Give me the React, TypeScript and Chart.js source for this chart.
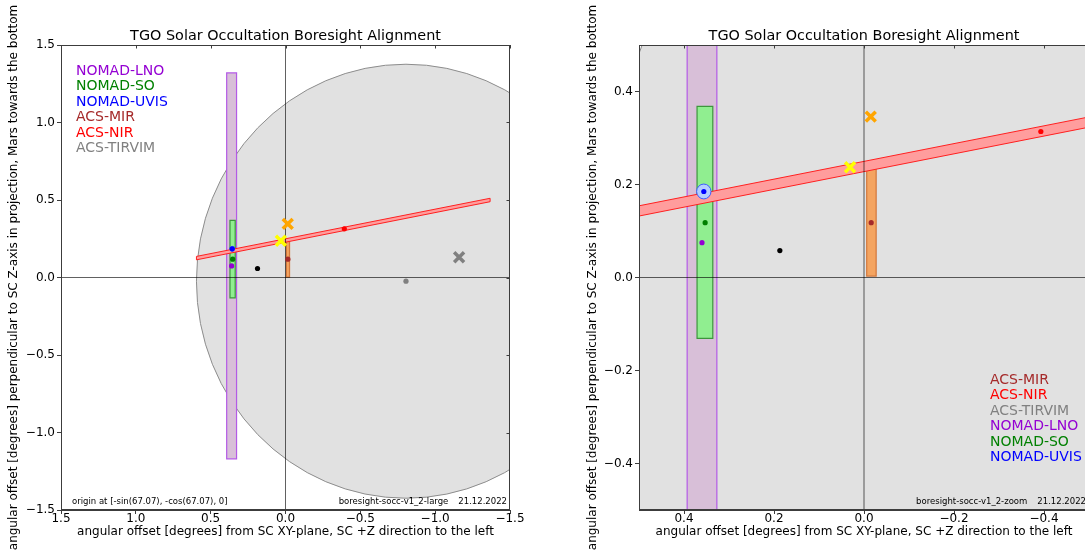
import React, { useEffect, useRef } from 'react';
import { Chart, registerables } from 'chart.js';

Chart.register(...registerables);

const FONT = "'DejaVu Sans', 'Liberation Sans', sans-serif";

const TITLE = 'TGO Solar Occultation Boresight Alignment';
const X_LABEL = 'angular offset [degrees] from SC XY-plane, SC +Z direction to the left';
const Y_LABEL = 'angular offset [degrees] perpendicular to SC Z-axis in projection, Mars towards the bottom';

// boresight dots (degrees)
const dotNames = ['NOMAD-LNO', 'NOMAD-SO', 'NOMAD-UVIS', 'ACS-MIR', 'ACS-NIR', 'ACS-TIRVIM', 'reference'];
const dotX = [0.36, 0.353, 0.356, -0.016, -0.393, -0.805, 0.187];
const dotY = [0.075, 0.118, 0.185, 0.118, 0.314, -0.024, 0.058];
const dotColors = ['#9400d3', '#008000', '#0000ff', '#a52a2a', '#ff0000', '#808080', '#000000'];

// cross markers (degrees)
const crossNames = ['yellow', 'orange', 'grey'];
const crossX = [0.031, -0.015, -1.16];
const crossY = [0.237, 0.346, 0.131];
const crossColors = ['#ffff00', '#ffa500', '#808080'];

// slit rectangles (degrees)
const rectNames = ['NOMAD-LNO', 'NOMAD-SO', 'ACS-MIR'];
const rectXMin = [0.327, 0.336, -0.027];
const rectXMax = [0.393, 0.371, -0.006];
const rectYMin = [-1.17, -0.131, 0.003];
const rectYMax = [1.32, 0.368, 0.233];
const rectFill = ['#d8bfd8', '#90ee90', '#f4a460'];
const rectEdge = ['#b45ae6', '#3c963c', '#d2783c'];

// ACS-NIR slit band (degrees)
const bandX = [0.595, -1.367];
const bandY = [0.125, 0.5];
const bandHalfWidth = [0.011];

// circular fields of view (degrees)
const circleNames = ['ACS-TIRVIM', 'NOMAD-UVIS'];
const circleX = [-0.805, 0.356];
const circleY = [-0.024, 0.185];
const circleR = [1.4, 0.016];
const circleFill = ['#e1e1e1', '#b4cdff'];
const circleEdge = ['#8c8c8c', '#3c5aff'];

// legends
const legendLarge = ['NOMAD-LNO', 'NOMAD-SO', 'NOMAD-UVIS', 'ACS-MIR', 'ACS-NIR', 'ACS-TIRVIM'];
const legendLargeColors = ['#9400d3', '#008000', '#0000ff', '#a52a2a', '#ff0000', '#808080'];
const legendZoom = ['ACS-MIR', 'ACS-NIR', 'ACS-TIRVIM', 'NOMAD-LNO', 'NOMAD-SO', 'NOMAD-UVIS'];
const legendZoomColors = ['#a52a2a', '#ff0000', '#808080', '#9400d3', '#008000', '#0000ff'];

// axes
const largeRange = [-1.5, 1.5];
const largeTicks = [1.5, 1.0, 0.5, 0.0, -0.5, -1.0, -1.5];
const zoomRange = [-0.5, 0.5];
const zoomTicks = [0.4, 0.2, 0.0, -0.2, -0.4];

const fmt = (v: number) => (Math.abs(v) < 1e-9 ? '0.0' : v.toFixed(1).replace('-', '\u2212'));

const shapesPlugin = {
  id: 'fovShapes',
  beforeDatasetsDraw(chart: any) {
    const { ctx, chartArea: a, scales } = chart;
    const xs = scales.x;
    const ys = scales.y;
    const px = (v: number) => xs.getPixelForValue(v);
    const py = (v: number) => ys.getPixelForValue(v);
    ctx.save();
    ctx.beginPath();
    ctx.rect(a.left, a.top, a.right - a.left, a.bottom - a.top);
    ctx.clip();
    const drawCircle = (i: number) => {
      const cx = px(circleX[i]);
      const cy = py(circleY[i]);
      const rx = Math.abs(px(circleX[i] + circleR[i]) - cx);
      const ry = Math.abs(py(circleY[i] + circleR[i]) - cy);
      ctx.beginPath();
      ctx.ellipse(cx, cy, rx, ry, 0, 0, Math.PI * 2);
      ctx.fillStyle = circleFill[i];
      ctx.fill();
      ctx.lineWidth = 1;
      ctx.strokeStyle = circleEdge[i];
      ctx.stroke();
    };
    drawCircle(0);
    for (let i = 0; i < rectNames.length; i++) {
      const x0 = px(rectXMin[i]);
      const x1 = px(rectXMax[i]);
      const y0 = py(rectYMin[i]);
      const y1 = py(rectYMax[i]);
      ctx.beginPath();
      ctx.rect(Math.min(x0, x1), Math.min(y0, y1), Math.abs(x1 - x0), Math.abs(y1 - y0));
      ctx.fillStyle = rectFill[i];
      ctx.fill();
      ctx.lineWidth = 1.2;
      ctx.strokeStyle = rectEdge[i];
      ctx.stroke();
    }
    const h = bandHalfWidth[0];
    ctx.beginPath();
    ctx.moveTo(px(bandX[0]), py(bandY[0] - h));
    ctx.lineTo(px(bandX[1]), py(bandY[1] - h));
    ctx.lineTo(px(bandX[1]), py(bandY[1] + h));
    ctx.lineTo(px(bandX[0]), py(bandY[0] + h));
    ctx.closePath();
    ctx.fillStyle = '#ff9d9d';
    ctx.fill();
    ctx.lineWidth = 1;
    ctx.strokeStyle = '#ff2020';
    ctx.stroke();
    drawCircle(1);
    ctx.restore();
  },
};

const decorPlugin = {
  id: 'decor',
  afterDraw(chart: any, _args: any, opts: any) {
    const { ctx, chartArea: a, scales } = chart;
    ctx.save();
    // frame
    ctx.strokeStyle = '#3c3c3c';
    ctx.lineWidth = 1;
    ctx.strokeRect(a.left + 0.5, a.top + 0.5, a.right - a.left - 1, a.bottom - a.top - 1);
    // inner ticks on top and right
    ctx.beginPath();
    for (const v of opts.ticks) {
      const x = Math.round(scales.x.getPixelForValue(v)) + 0.5;
      ctx.moveTo(x, a.top);
      ctx.lineTo(x, a.top + 3.5);
      const y = Math.round(scales.y.getPixelForValue(v)) + 0.5;
      ctx.moveTo(a.right, y);
      ctx.lineTo(a.right - 3.5, y);
    }
    ctx.stroke();
    // title centred over the plot area
    ctx.font = `14.4px ${FONT}`;
    ctx.fillStyle = '#000';
    ctx.textAlign = 'center';
    ctx.textBaseline = 'alphabetic';
    ctx.fillText(TITLE, (a.left + a.right) / 2, a.top - 5);
    // legend text
    ctx.font = `14px ${FONT}`;
    ctx.textBaseline = 'middle';
    ctx.textAlign = 'left';
    opts.legend.forEach((t: string, i: number) => {
      ctx.fillStyle = opts.legendColors[i];
      ctx.fillText(t, a.left + opts.legendDX, a.top + opts.legendDY + i * 15.5);
    });
    // notes
    ctx.font = `8.5px ${FONT}`;
    ctx.fillStyle = '#000';
    const ny = a.bottom - 8;
    if (opts.noteLeft) {
      ctx.textAlign = 'left';
      ctx.fillText(opts.noteLeft, a.left + 11, ny);
    }
    ctx.textAlign = 'right';
    const dateW = ctx.measureText(opts.noteDate).width;
    ctx.fillText(opts.noteDate, a.right - 3, ny);
    ctx.fillText(opts.noteRight, a.right - 3 - dateW - 10, ny);
    ctx.restore();
  },
};

function buildConfig(kind: 'large' | 'zoom'): any {
  const range = kind === 'large' ? largeRange : zoomRange;
  const ticks = kind === 'large' ? largeTicks : zoomTicks;
  const datasets: any[] = [];
  crossNames.forEach((n, i) => {
    datasets.push({
      label: n,
      data: [{ x: crossX[i], y: crossY[i] }],
      pointStyle: 'crossRot',
      pointRadius: 7,
      pointBorderWidth: 3.5,
      pointBorderColor: crossColors[i],
      pointBackgroundColor: crossColors[i],
    });
  });
  dotNames.forEach((n, i) => {
    datasets.push({
      label: n,
      data: [{ x: dotX[i], y: dotY[i] }],
      pointRadius: 2.6,
      pointBorderWidth: 0,
      pointBackgroundColor: dotColors[i],
      pointBorderColor: dotColors[i],
    });
  });
  datasets.push({
    label: 'y=0',
    data: [{ x: range[0], y: 0 }, { x: range[1], y: 0 }],
    showLine: true,
    pointRadius: 0,
    borderColor: 'rgba(0,0,0,0.62)',
    borderWidth: 1,
  });
  datasets.push({
    label: 'x=0',
    data: [{ x: 0, y: range[0] }, { x: 0, y: range[1] }],
    showLine: true,
    pointRadius: 0,
    borderColor: 'rgba(0,0,0,0.62)',
    borderWidth: 1,
  });

  const tickFont = { family: FONT, size: 12 };
  const axisCommon = {
    type: 'linear',
    min: range[0],
    max: range[1],
    grid: { drawOnChartArea: false, drawTicks: true, tickLength: 4, color: '#3c3c3c' },
    border: { display: true, color: '#3c3c3c' },
  };

  return {
    type: 'scatter',
    data: { datasets },
    plugins: [shapesPlugin, decorPlugin],
    options: {
      responsive: false,
      animation: false,
      devicePixelRatio: 1,
      layout: { padding: { left: 0, right: 30, top: 45, bottom: 0 } },
      scales: {
        x: {
          ...axisCommon,
          reverse: true,
          afterBuildTicks: (s: any) => {
            s.ticks = ticks.map((v) => ({ value: v }));
          },
          afterFit: (s: any) => {
            s.height = 40;
          },
          ticks: {
            callback: (v: any) => fmt(Number(v)),
            font: tickFont,
            color: '#000',
            padding: -2,
            maxRotation: 0,
            autoSkip: false,
          },
          title: {
            display: true,
            text: X_LABEL,
            font: { family: FONT, size: 12 },
            color: '#000',
            padding: { top: 0, bottom: 10.5 },
          },
        },
        y: {
          ...axisCommon,
          afterBuildTicks: (s: any) => {
            s.ticks = ticks.map((v) => ({ value: v }));
          },
          afterFit: (s: any) => {
            s.width = kind === 'large' ? 61 : 60;
          },
          ticks: {
            callback: (v: any) => fmt(Number(v)),
            font: tickFont,
            color: '#000',
            padding: 2,
            autoSkip: false,
          },
          title: {
            display: true,
            text: Y_LABEL,
            font: { family: FONT, size: 12 },
            color: '#000',
            padding: { top: 6.8, bottom: 0 },
          },
        },
      },
      plugins: {
        legend: { display: false },
        tooltip: { enabled: false },
        title: { display: false },
        decor: {
          ticks,
          legend: kind === 'large' ? legendLarge : legendZoom,
          legendColors: kind === 'large' ? legendLargeColors : legendZoomColors,
          legendDX: kind === 'large' ? 15 : 351,
          legendDY: kind === 'large' ? 26 : 335,
          noteLeft: kind === 'large' ? 'origin at [-sin(67.07), -cos(67.07), 0]' : '',
          noteRight: kind === 'large' ? 'boresight-socc-v1_2-large' : 'boresight-socc-v1_2-zoom',
          noteDate: '21.12.2022',
        },
      },
    },
  };
}

function BoresightChart({ kind, left }: { kind: 'large' | 'zoom'; left: number }) {
  const ref = useRef<HTMLCanvasElement>(null);
  useEffect(() => {
    if (!ref.current) return;
    const chart = new Chart(ref.current, buildConfig(kind));
    return () => chart.destroy();
  }, [kind]);
  return (
    <canvas
      ref={ref}
      width={540}
      height={550}
      style={{ position: 'absolute', left, top: 0, width: 540, height: 550 }}
    />
  );
}

export default function App() {
  return (
    <div
      style={{
        position: 'fixed',
        left: 0,
        top: 0,
        width: 1085,
        height: 550,
        overflow: 'hidden',
        background: '#fff',
      }}
    >
      <BoresightChart kind="large" left={0} />
      <BoresightChart kind="zoom" left={579} />
    </div>
  );
}
